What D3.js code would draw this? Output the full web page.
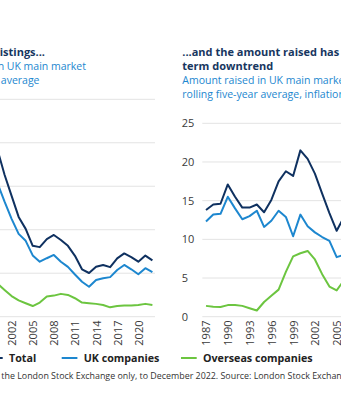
<!DOCTYPE html>
<html>
<head>
<meta charset="utf-8">
<script src="https://cdn.jsdelivr.net/npm/d3@7"></script>
<style>
  html, body { margin: 0; padding: 0; background: #fff; }
  svg { display: block; font-family: "Open Sans", sans-serif; }
</style>
</head>
<body>
<svg id="chart" width="341" height="400"></svg>
<script>
// ---- Data ----------------------------------------------------------------
// Number of new listings, rolling five-year average
const listingYears = [2000, 2001, 2002, 2003, 2004, 2005, 2006, 2007, 2008, 2009, 2010,
  2011, 2012, 2013, 2014, 2015, 2016, 2017, 2018, 2019, 2020, 2021, 2022];
const listingsTotal = [76.7, 65.3, 55.6, 45.9, 40.4, 32.6, 32.0, 35.7, 37.6, 35.3, 32.6,
  28.0, 21.8, 20.1, 23.0, 23.8, 22.8, 26.8, 29.1, 27.4, 25.3, 28.1, 25.9];
const listingsUK = [61.4, 52.9, 45.0, 38.1, 34.9, 28.2, 25.3, 26.9, 28.4, 25.3, 22.9,
  19.4, 16.1, 13.8, 16.9, 17.7, 18.2, 21.5, 23.8, 21.8, 19.5, 22.3, 20.5];
const listingsOverseas = [15.2, 12.3, 9.5, 7.5, 6.2, 4.9, 6.5, 9.3, 9.7, 10.5, 10.0,
  8.5, 6.5, 6.2, 5.9, 5.4, 4.3, 4.9, 5.1, 5.1, 5.4, 5.9, 5.4];

// Amount raised, £bn, rolling five-year average, inflation adjusted
const raisedYears = [1987, 1988, 1989, 1990, 1991, 1992, 1993, 1994, 1995, 1996, 1997,
  1998, 1999, 2000, 2001, 2002, 2003, 2004, 2005, 2006];
const raisedTotal = [13.8, 14.5, 14.6, 17.1, 15.5, 14.1, 14.1, 14.5, 13.5, 15.1, 17.5,
  18.8, 18.2, 21.5, 20.4, 18.5, 15.9, 13.4, 11.1, 12.9];
const raisedUK = [12.3, 13.2, 13.3, 15.5, 14.0, 12.6, 13.0, 13.7, 11.6, 12.4, 13.7,
  12.9, 10.4, 13.2, 11.7, 10.9, 10.3, 9.8, 7.7, 8.0];
const raisedOverseas = [1.4, 1.3, 1.25, 1.5, 1.5, 1.4, 1.1, 0.8, 1.9, 2.7, 3.5,
  5.8, 7.8, 8.2, 8.5, 7.4, 5.5, 3.9, 3.4, 4.7];

const xTickYears = [1987, 1990, 1993, 1996, 1999, 2002, 2005, 2008, 2011, 2014, 2017, 2020];
const listingTicks = [0, 20, 40, 60, 80, 100];
const raisedTicks = [0, 5, 10, 15, 20, 25];

const seriesNames = ["Total", "UK companies", "Overseas companies"];
const seriesColors = ["#0f3160", "#1d87cf", "#6cc540"];

// ---- Layout ----------------------------------------------------------------
const svg = d3.select("#chart");
const C = { title: "#17365f", sub: "#1d87cf", axis: "#3a3a3a", grid: "#e3e3e3" };

function panel(opt) {
  const g = svg.append("g");
  const x = d3.scaleLinear().domain([1987, 2022]).range(opt.xRange);
  const y = d3.scaleLinear().domain(opt.yDomain).range([316.7, opt.yTop]);

  // gridlines
  g.append("g").selectAll("line").data(opt.ticks).join("line")
    .attr("x1", opt.gridX[0]).attr("x2", opt.gridX[1])
    .attr("y1", d => y(d)).attr("y2", d => y(d))
    .attr("stroke", C.grid).attr("stroke-width", 1);

  // y axis labels
  const ya = g.append("g").attr("transform", `translate(${opt.yLabelX},0)`)
    .call(d3.axisLeft(y).tickValues(opt.ticks).tickSize(0));
  ya.select(".domain").remove();
  ya.selectAll("text").attr("x", 0).attr("text-anchor", "start")
    .attr("fill", C.axis).style("font-size", "11px").style("font-family", "Open Sans");

  // x axis labels, vertical
  const xa = g.append("g").attr("transform", "translate(0,316.7)")
    .call(d3.axisBottom(x).tickValues(xTickYears).tickFormat(d3.format("d")).tickSize(0));
  xa.select(".domain").remove();
  xa.selectAll("text")
    .attr("transform", "rotate(-90)").attr("text-anchor", "end")
    .attr("x", -3.8).attr("y", 0).attr("dy", "0.36em")
    .attr("fill", C.axis).style("font-size", "11px").style("font-family", "Open Sans");

  // lines, overseas first so total sits on top
  const line = d3.line().x(d => x(d[0])).y(d => y(d[1]));
  [2, 1, 0].forEach(i => {
    const vals = opt.series[i];
    g.append("path")
      .datum(opt.years.map((yr, k) => [yr, vals[k]]))
      .attr("d", line).attr("fill", "none")
      .attr("stroke", seriesColors[i]).attr("stroke-width", 2)
      .attr("stroke-linejoin", "round");
  });
  return g;
}

panel({
  xRange: [152.4 - 35 * 7.04, 152.4], yDomain: [0, 100], yTop: 99.3,
  gridX: [-98, 155], yLabelX: -126, ticks: listingTicks,
  years: listingYears, series: [listingsTotal, listingsUK, listingsOverseas]
});
panel({
  xRange: [206, 206 + 35 * 7.26], yDomain: [0, 25], yTop: 123.3,
  gridX: [202.3, 463], yLabelX: 181.7, ticks: raisedTicks,
  years: raisedYears, series: [raisedTotal, raisedUK, raisedOverseas]
});

// ---- Titles ------------------------------------------------------------------
function txt(x, y, s, o) {
  return svg.append("text").attr("x", x).attr("y", y).text(s)
    .attr("fill", o.fill).attr("text-anchor", o.anchor || "start")
    .style("font-size", o.size).style("font-weight", o.weight || 400);
}
txt(45, 55.5, "Fewer companies are choosing new listings...",
  { fill: C.title, anchor: "end", size: "11px", weight: 700 });
txt(86, 69.5, "Number of new listings on UK main market",
  { fill: C.sub, anchor: "end", size: "10.5px" });
txt(39.5, 83.5, "rolling five-year average",
  { fill: C.sub, anchor: "end", size: "10.5px" });

txt(182.3, 55.5, "...and the amount raised has been in a long-",
  { fill: C.title, size: "11px", weight: 700 });
txt(182.3, 69.5, "term downtrend", { fill: C.title, size: "11px", weight: 700 });
txt(182.3, 84, "Amount raised in UK main market, £bn,", { fill: C.sub, size: "10.5px" });
txt(182.3, 98, "rolling five-year average, inflation adjusted", { fill: C.sub, size: "10.5px" });

// ---- Legend ------------------------------------------------------------------
const legendX = [-13, 61.7, 181];
const legend = svg.append("g");
seriesNames.forEach((name, i) => {
  legend.append("line")
    .attr("x1", legendX[i]).attr("x2", legendX[i] + 15.7)
    .attr("y1", 358).attr("y2", 358)
    .attr("stroke", seriesColors[i]).attr("stroke-width", 2);
  legend.append("text")
    .attr("x", legendX[i] + 22).attr("y", 362)
    .attr("fill", "#222").style("font-size", "10.7px").style("font-weight", 700)
    .text(name);
});

// ---- Footnote ----------------------------------------------------------------
txt(-1.5, 378.5, "Note: Main market of", { fill: "#333", anchor: "end", size: "9px" });
txt(1.3, 378.5, "the London Stock Exchange only, to December 2022. Source: London Stock Exchange",
  { fill: "#333", size: "8.9px" });
</script>
</body>
</html>
